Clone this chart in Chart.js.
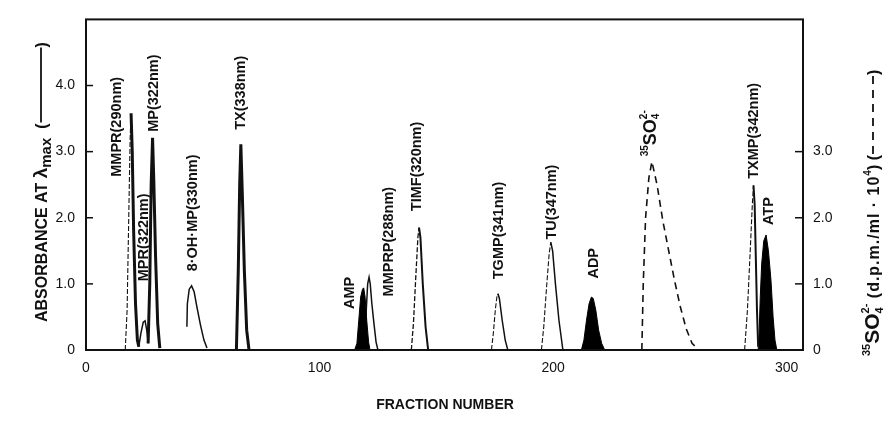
<!DOCTYPE html>
<html><head><meta charset="utf-8">
<script src="https://cdn.jsdelivr.net/npm/chart.js@4.4.1/dist/chart.umd.min.js"></script>
<style>html,body{margin:0;padding:0;background:#fff}#wrap{width:889px;height:429px}</style>
</head><body><div id="wrap"><canvas id="c" width="889" height="429"></canvas></div>
<script>
// ---- tick values ----
const xTicks = [0, 100, 200, 300];
const yTicksLeft = [0, 1, 2, 3, 4];
const yTicksRight = [0, 1, 2, 3];

// ---- series: [fraction number, absorbance] ----
const mmpr  = [[16.8,0],[17.6,0.6],[18.3,2.0],[18.9,3.2],[19.3,3.58],[19.8,3.0],[20.4,1.8],[21.2,0.7],[22,0.15],[22.6,0.05]];
const mpr   = [[22.6,0.05],[23.5,0.25],[24.5,0.42],[25.3,0.44],[26,0.3],[26.6,0.1]];
const mp    = [[26.6,0.1],[27.3,1.0],[27.9,2.5],[28.5,3.21],[29.0,2.6],[29.8,1.4],[30.7,0.4],[31.6,0.03]];
const ohmp  = [[43.2,0.35],[43.4,0.7],[44.2,0.92],[45.2,0.97],[46.3,0.88],[47.5,0.65],[49,0.38],[50.5,0.15],[51.8,0.03]];
const tx    = [[64.4,0],[65.2,1.2],[65.8,2.5],[66.3,3.11],[66.9,2.4],[67.8,1.2],[68.8,0.3],[69.8,0]];
const amp   = [[115,0],[116,0.1],[116.8,0.45],[117.6,0.8],[118.4,0.92],[118.9,0.94],[119.5,0.8],[120.2,0.45],[121,0.12],[121.6,0]];
const mmprp = [[119.3,0.2],[120,0.6],[120.6,1.0],[121.2,1.1],[121.7,1.0],[122.4,0.7],[123.3,0.4],[124.2,0.12],[125,0]];
const timf  = [[139.3,0],[140.2,0.4],[141.2,1.1],[142.1,1.7],[142.6,1.85],[143.2,1.7],[144.2,1.0],[145.4,0.35],[146.5,0]];
const tgmp  = [[173.6,0],[174.4,0.25],[175.3,0.62],[176,0.82],[176.4,0.85],[177,0.78],[178.2,0.45],[179.5,0.15],[180.6,0]];
const tu    = [[195,0],[196,0.35],[197.2,0.95],[198.3,1.45],[199,1.63],[199.8,1.5],[201,1.0],[202.5,0.45],[204.2,0]];
const adp   = [[212.1,0],[213.2,0.15],[214.3,0.45],[215.4,0.7],[216.4,0.8],[217.2,0.78],[218.3,0.6],[219.5,0.3],[220.8,0.1],[222.1,0]];
const txmp  = [[282,0],[283.2,0.6],[284.4,1.5],[285.3,2.2],[285.8,2.49],[286.3,2.2],[286.8,1.4],[287.3,0.6],[287.8,0.05]];
const atp   = [[287.8,0],[288.2,0.25],[288.7,0.8],[289.3,1.3],[290.2,1.65],[291.2,1.74],[292.2,1.5],[293.3,1.05],[294.2,0.5],[295,0.15],[295.8,0]];
// ---- series: [fraction number, 35SO4 (d.p.m./ml x 10^4)] ----
const so4   = [[238,0],[238.6,1.0],[239.6,2.0],[241,2.6],[242.3,2.85],[244.5,2.5],[247,1.95],[249.5,1.5],[252,1.05],[254.5,0.65],[257,0.32],[259.5,0.1],[262.5,0]];

// ---- peak annotations: text, fraction, absorbance at text start ----
const peakNames = ["MMPR(290nm)","MPR(322nm)","MP(322nm)","8·OH·MP(330nm)","TX(338nm)","AMP","MMPRP(288nm)","TIMF(320nm)","TGMP(341nm)","TU(347nm)","ADP","SO4","TXMP(342nm)","ATP"];
const peakNameX = [12.8, 24.6, 28.5, 45.2, 66.1, 112.4, 129.1, 141.5, 176.3, 199, 217, 241.8, 285.8, 292];
const peakNameY = [2.62, 1.04, 3.30, 1.19, 3.33, 0.62, 0.81, 2.10, 1.07, 1.67, 1.08, 2.93, 2.59, 1.89];

const FONT = "'Liberation Sans', Arial, sans-serif";
function pts(a){ return a.map(p => ({x:p[0], y:p[1]})); }
const rising = c => c.p1.parsed.y > c.p0.parsed.y;
function uv(d, w, dashRise, riseW){
  const ds = {data:pts(d), borderColor:'#111', borderWidth:w, pointRadius:0, fill:false, tension:0, yAxisID:'y'};
  if (dashRise) ds.segment = {
    borderDash: c => rising(c) ? [5,2] : undefined,
    borderWidth: c => rising(c) ? (riseW || 1.1) : w
  };
  return ds;
}
function solid(d){ return {data:pts(d), borderColor:'#000', backgroundColor:'#000', borderWidth:1, pointRadius:0, fill:'origin', tension:0, yAxisID:'y'}; }

function drawRich(ctx, segs){
  let x = 0;
  for (const s of segs){
    if (s.line){
      ctx.save(); ctx.lineWidth = s.lw || 1.6; ctx.setLineDash(s.dash || []);
      ctx.beginPath(); ctx.moveTo(x + 1, s.dy || -5); ctx.lineTo(x + s.line, s.dy || -5); ctx.stroke(); ctx.restore();
      x += s.line; continue;
    }
    ctx.font = (s.w || 'bold') + ' ' + s.size + 'px ' + FONT;
    ctx.letterSpacing = s.ls || '0px';
    ctx.fillText(s.t, x, s.dy || 0);
    if (!s.noAdv) x += ctx.measureText(s.t).width;
  }
  ctx.letterSpacing = '0px';
}

const decor = {
  id:'decor',
  afterDatasetsDraw(chart){
    const ctx = chart.ctx, a = chart.chartArea;
    const xs = chart.scales.x, ys = chart.scales.y, y1 = chart.scales.y1;
    ctx.save();
    ctx.fillStyle = '#111'; ctx.strokeStyle = '#111';
    // peak labels
    for (let i = 0; i < peakNames.length; i++){
      const px = xs.getPixelForValue(peakNameX[i]), py = ys.getPixelForValue(peakNameY[i]);
      ctx.save(); ctx.translate(px + 5, py); ctx.rotate(-Math.PI/2);
      ctx.textAlign = 'left'; ctx.textBaseline = 'alphabetic';
      if (peakNames[i] === 'SO4'){
        drawRich(ctx, [{t:'35', size:10, dy:-8},{t:'SO', size:18},{t:'4', size:10, dy:3, noAdv:true},{t:'2-', size:10, dy:-9}]);
      } else {
        ctx.font = 'bold 14.5px ' + FONT;
        ctx.fillText(peakNames[i], 0, 0);
      }
      ctx.restore();
    }
    // frame
    ctx.lineWidth = 2;
    ctx.strokeRect(a.left, a.top, a.right - a.left, a.bottom - a.top);
    // inward ticks
    ctx.lineWidth = 1.5;
    for (const v of yTicksLeft){ if (!v) continue; const p = ys.getPixelForValue(v); ctx.beginPath(); ctx.moveTo(a.left, p); ctx.lineTo(a.left + 7, p); ctx.stroke(); }
    for (const v of yTicksRight){ if (!v) continue; const p = y1.getPixelForValue(v); ctx.beginPath(); ctx.moveTo(a.right, p); ctx.lineTo(a.right - 8, p); ctx.stroke(); }
    // left title
    ctx.save(); ctx.translate(47, 322); ctx.rotate(-Math.PI/2); ctx.textAlign = 'left'; ctx.textBaseline = 'alphabetic';
    drawRich(ctx, [{t:'ABSORBANCE AT ', size:16},{t:'λ', size:19},{t:'max', size:15, dy:4},{t:'  (', size:16},{line:76, dy:-6, lw:1.8},{t:')', size:16}]);
    ctx.restore();
    // right title
    ctx.save(); ctx.translate(879, 356); ctx.rotate(-Math.PI/2); ctx.textAlign = 'left'; ctx.textBaseline = 'alphabetic';
    drawRich(ctx, [{t:'35', size:11, dy:-9},{t:'SO', size:21},{t:'4', size:11, dy:4, noAdv:true},{t:'2-', size:11, dy:-10},{t:' (d.p.m./ml · 10', size:16, ls:'1px'},{t:'4', size:10, dy:-8},{t:') (', size:16},{line:80, dash:[8,6], dy:-6, lw:1.8},{t:')', size:16}]);
    ctx.restore();
    // x title
    ctx.font = 'bold 14px ' + FONT; ctx.textAlign = 'center'; ctx.textBaseline = 'middle';
    ctx.fillText('FRACTION NUMBER', 445, 405);
    ctx.restore();
  }
};

const tickFont = {family:FONT, size:14};
new Chart(document.getElementById('c'), {
  type:'line',
  data:{datasets:[
    uv(mmpr,3,true,1.1), uv(mpr,1.5), uv(mp,3), uv(ohmp,1.5), uv(tx,3),
    solid(amp), uv(mmprp,1.5), uv(timf,2,true,1.3), uv(tgmp,1.5,true), uv(tu,1.5,true), solid(adp),
    uv(txmp,2,true), solid(atp),
    {data:pts(so4), borderColor:'#111', borderWidth:1.6, borderDash:[7,5], pointRadius:0, fill:false, tension:0, yAxisID:'y1'}
  ]},
  options:{
    responsive:false, animation:false, devicePixelRatio:1,
    layout:{padding:{top:13, left:0, right:0, bottom:0}},
    plugins:{legend:{display:false}, tooltip:{enabled:false}},
    scales:{
      x:{type:'linear', min:0, max:307, grid:{display:false, drawTicks:false}, border:{display:false},
         afterBuildTicks:s=>{ s.ticks = xTicks.map(v=>({value:v})); },
         afterFit:s=>{ s.height = 79; },
         ticks:{font:tickFont, color:'#111', padding:10, maxRotation:0, callback:v=>String(v)}},
      y:{position:'left', min:0, max:5, grid:{display:false, drawTicks:false}, border:{display:false},
         afterBuildTicks:s=>{ s.ticks = yTicksLeft.map(v=>({value:v})); },
         afterFit:s=>{ s.width = 86; },
         ticks:{font:tickFont, color:'#111', padding:11, callback:v=> v===0 ? '0' : v.toFixed(1)}},
      y1:{position:'right', min:0, max:5, grid:{display:false, drawTicks:false}, border:{display:false},
         afterBuildTicks:s=>{ s.ticks = yTicksRight.map(v=>({value:v})); },
         afterFit:s=>{ s.width = 86; },
         ticks:{font:tickFont, color:'#111', padding:10, callback:v=> v===0 ? '0' : v.toFixed(1)}}
    }
  },
  plugins:[decor]
});
</script>
</body></html>
